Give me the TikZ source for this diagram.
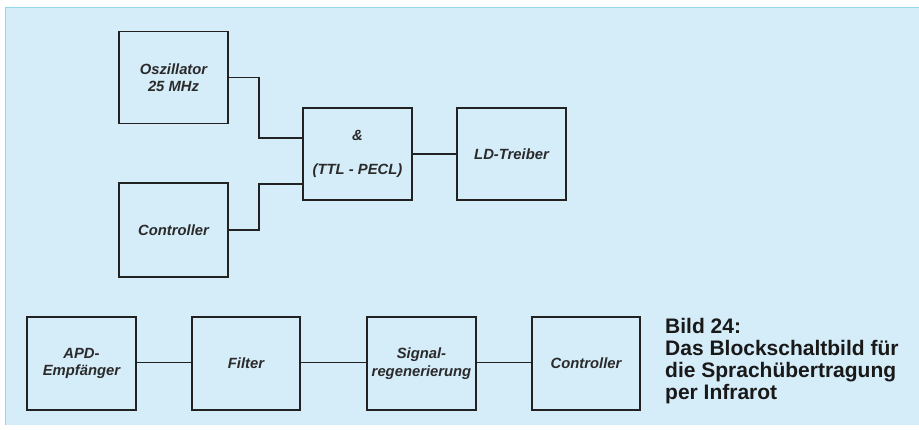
\documentclass[tikz,border=0pt]{standalone}
\usepackage{fontspec}
\setmainfont{Liberation Sans}
\definecolor{panel}{HTML}{D5ECF9}
\definecolor{paneledge}{HTML}{92D8EA}
\definecolor{ink}{HTML}{222222}
\definecolor{labelink}{HTML}{2A2A2A}
\begin{document}
\begin{tikzpicture}[x=1pt,y=-1pt,
  blk/.style={draw=ink,line width=1.8pt,fill=panel,minimum width=109pt,minimum height=92pt,inner sep=0pt,
    align=center,text=labelink,font=\fontsize{14.8}{17.5}\selectfont\bfseries\itshape},
  wire/.style={draw=ink,line width=1.6pt}]
\useasboundingbox (0,0) rectangle (919,429);
\fill[white] (0,0) rectangle (919,429);
\fill[panel] (5,7) rectangle (919,425);
\draw[paneledge,line width=1pt] (5,425) -- (5,7) -- (919,7);
% top part
\node[blk] (osc) at (173.5,77.5) {Oszillator\\25 MHz};
\node[blk] (and) at (357.5,154) {\&\\[16pt](TTL - PECL)};
\node[blk] (ld) at (511.5,154) {LD-Treiber};
\node[blk,minimum height=94pt] (ctrl) at (173.5,230) {Controller};
% bottom row
\node[blk,minimum height=93pt] (apd) at (81.5,363.5) {APD-\\Empfänger};
\node[blk,minimum height=93pt,minimum width=108pt] (filt) at (246,363.5) {Filter};
\node[blk,minimum height=93pt] (sig) at (421.5,363.5) {Signal-\\regenerierung};
\node[blk,minimum height=93pt,minimum width=108pt] (ctrlb) at (586,363.5) {Controller};
% connectors
\draw[wire] (osc.east) -- ++(30,0) |- ([yshift=16pt]and.west);
\draw[wire] (ctrl.east) -- ++(30,0) |- ([yshift=-30pt]and.west);
\draw[wire] (and.east) -- (ld.west);
\draw[wire] ([yshift=1pt]apd.east) -- ([yshift=1pt]filt.west);
\draw[wire] ([yshift=1pt]filt.east) -- ([yshift=1pt]sig.west);
\draw[wire] ([yshift=1pt]sig.east) -- ([yshift=1pt]ctrlb.west);
% caption
\node[anchor=north west,inner sep=0pt,align=left,text=black!90,font=\fontsize{21}{22}\selectfont\bfseries] (cap) at (665,318)
  {Bild 24:\\Das Blockschaltbild für\\die Sprachübertragung\\per Infrarot};
\end{tikzpicture}
\end{document}
